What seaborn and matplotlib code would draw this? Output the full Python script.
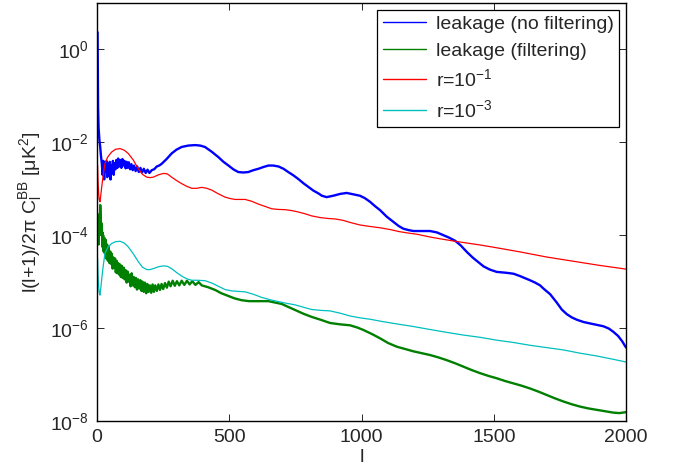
import matplotlib
matplotlib.use("Agg")
import matplotlib.pyplot as plt
import matplotlib.ticker as mticker
import numpy as np
import pandas as pd
import seaborn as sns


# ── data: multipole l and log10 of the power (uK^2) ───

l_blue = [2, 3, 4, 6, 9, 12, 15, 18, 21, 24, 27, 30, 33, 36, 39, 42, 45, 48,
          51, 54, 57, 60, 63, 66, 70, 73, 77, 80, 84, 88, 92, 96, 100, 104,
          108, 112, 116, 120, 125, 130, 135, 140, 146, 152, 158, 164, 170, 177,
          184, 191, 198, 207, 216, 226, 235, 245, 263, 282, 300, 320, 345, 371,
          390, 408, 433, 459, 478, 497, 515, 534, 553, 572, 591, 610, 630, 648,
          666, 686, 705, 723, 742, 761, 780, 799, 818, 837, 850, 868, 893, 920,
          944, 970, 994, 1012, 1032, 1050, 1070, 1095, 1120, 1140, 1158, 1178,
          1196, 1230, 1259, 1285, 1309, 1330, 1354, 1375, 1398, 1420, 1448,
          1461, 1485, 1511, 1549, 1575, 1599, 1620, 1637, 1656, 1675, 1688,
          1713, 1738, 1757, 1776, 1795, 1814, 1840, 1864, 1890, 1914, 1935,
          1952, 1970, 1985, 2000]
log_blue = [0.37, -0.5, -1.25, -1.7, -1.95, -2.1, -2.3, -2.45, -2.7, -2.4,
            -2.8, -2.45, -2.62, -2.4, -2.75, -2.48, -2.65, -2.42, -2.8, -2.5,
            -2.62, -2.4, -2.7, -2.45, -2.58, -2.38, -2.55, -2.35, -2.52, -2.38,
            -2.55, -2.36, -2.5, -2.4, -2.56, -2.42, -2.55, -2.43, -2.58, -2.47,
            -2.6, -2.5, -2.62, -2.52, -2.64, -2.55, -2.65, -2.57, -2.66, -2.59,
            -2.66, -2.6, -2.58, -2.52, -2.5, -2.46, -2.36, -2.24, -2.16, -2.10,
            -2.07, -2.06, -2.07, -2.10, -2.2, -2.32, -2.42, -2.5, -2.58, -2.64,
            -2.65, -2.64, -2.6, -2.57, -2.53, -2.5, -2.5, -2.52, -2.57, -2.64,
            -2.71, -2.79, -2.88, -2.96, -3.04, -3.10, -3.15, -3.18, -3.15,
            -3.11, -3.09, -3.12, -3.15, -3.2, -3.28, -3.37, -3.46, -3.6, -3.71,
            -3.8, -3.86, -3.89, -3.91, -3.91, -3.91, -3.94, -4.0, -4.05, -4.12,
            -4.22, -4.36, -4.48, -4.61, -4.67, -4.74, -4.79, -4.81, -4.83,
            -4.88, -4.93, -4.97, -5.02, -5.08, -5.15, -5.27, -5.45, -5.60,
            -5.70, -5.77, -5.82, -5.87, -5.9, -5.93, -5.96, -6.01, -6.08,
            -6.17, -6.28, -6.42]

l_green = [2, 4, 6, 8, 10, 12, 14, 16, 18, 20, 22, 25, 27, 30, 33, 35, 38, 41,
           44, 47, 50, 53, 56, 59, 62, 65, 68, 71, 74, 77, 80, 84, 87, 90, 94,
           97, 101, 104, 108, 112, 115, 119, 123, 127, 131, 135, 139, 143, 147,
           151, 155, 160, 164, 168, 172, 177, 181, 186, 190, 195, 200, 205,
           210, 215, 220, 226, 232, 238, 244, 250, 257, 264, 271, 278, 286,
           294, 302, 311, 320, 330, 340, 350, 360, 372, 384, 396, 420, 447,
           470, 497, 520, 547, 575, 598, 625, 648, 673, 698, 725, 749, 780,
           812, 845, 881, 920, 957, 985, 1007, 1040, 1070, 1100, 1133, 1165,
           1196, 1228, 1259, 1290, 1322, 1355, 1385, 1415, 1448, 1480, 1511,
           1543, 1574, 1605, 1637, 1670, 1700, 1730, 1763, 1795, 1826, 1858,
           1889, 1920, 1952, 1975, 2000]
log_green = [-4.1, -3.7, -4.2, -3.55, -3.9, -3.35, -3.6, -4.0, -3.75, -4.25,
             -3.95, -4.35, -4.05, -4.4, -4.1, -4.5, -4.2, -4.55, -4.25, -4.6,
             -4.35, -4.62, -4.4, -4.72, -4.48, -4.7, -4.5, -4.8, -4.55, -4.82,
             -4.6, -4.85, -4.63, -4.9, -4.66, -4.92, -4.7, -4.95, -4.75, -5.02,
             -4.78, -5.0, -4.85, -5.1, -4.82, -5.08, -4.9, -5.12, -4.92, -5.17,
             -4.95, -5.15, -4.97, -5.2, -5.0, -5.22, -5.02, -5.25, -5.05, -5.22,
             -5.08, -5.24, -5.06, -5.22, -5.08, -5.2, -5.06, -5.18, -5.05,
             -5.16, -5.03, -5.13, -5.0, -5.1, -4.98, -5.09, -4.99, -5.08, -4.98,
             -5.07, -4.98, -5.06, -4.99, -5.07, -5.01, -5.08, -5.12, -5.18,
             -5.25, -5.31, -5.36, -5.40, -5.42, -5.42, -5.42, -5.42, -5.45,
             -5.48, -5.55, -5.61, -5.69, -5.76, -5.82, -5.89, -5.92, -5.94,
             -5.99, -6.04, -6.13, -6.22, -6.32, -6.40, -6.45, -6.50, -6.54,
             -6.58, -6.63, -6.69, -6.76, -6.83, -6.90, -6.97, -7.03, -7.08,
             -7.14, -7.19, -7.24, -7.30, -7.37, -7.44, -7.51, -7.58, -7.64,
             -7.69, -7.73, -7.76, -7.79, -7.82, -7.83, -7.81]

l_red = [2, 4, 6, 8, 11, 14, 18, 23, 30, 40, 55, 70, 87, 103, 118, 137, 156,
         172, 188, 200, 213, 232, 251, 266, 282, 300, 320, 340, 358, 377, 396,
         415, 434, 459, 484, 503, 522, 541, 560, 585, 610, 635, 660, 685, 711,
         736, 761, 787, 812, 843, 874, 900, 930, 960, 994, 1030, 1070, 1110,
         1140, 1172, 1210, 1260, 1300, 1353, 1400, 1448, 1500, 1600, 1700,
         1800, 1900, 2000]
log_red = [-2.49, -2.85, -3.1, -3.22, -3.28, -3.15, -2.95, -2.72, -2.46, -2.32,
           -2.21, -2.15, -2.135, -2.17, -2.24, -2.38, -2.57, -2.69, -2.75,
           -2.76, -2.75, -2.70, -2.67, -2.68, -2.75, -2.82, -2.89, -2.95,
           -2.99, -2.99, -2.97, -2.99, -3.03, -3.11, -3.18, -3.21, -3.23,
           -3.23, -3.23, -3.27, -3.33, -3.38, -3.43, -3.445, -3.45, -3.47,
           -3.50, -3.54, -3.585, -3.62, -3.64, -3.65, -3.68, -3.73, -3.78,
           -3.81, -3.84, -3.88, -3.92, -3.95, -3.98, -4.04, -4.08, -4.13,
           -4.17, -4.21, -4.26, -4.36, -4.47, -4.56, -4.65, -4.73]

l_cyan = [2, 4, 6, 8, 11, 14, 18, 23, 30, 42, 55, 70, 87, 103, 118, 137, 156,
          172, 188, 200, 213, 232, 251, 266, 282, 300, 320, 340, 358, 380, 409,
          434, 459, 484, 510, 535, 560, 590, 623, 655, 686, 711, 749, 780, 812,
          850, 881, 920, 957, 995, 1033, 1080, 1133, 1190, 1259, 1320, 1385,
          1450, 1511, 1574, 1637, 1700, 1763, 1826, 1889, 1950, 2000]
log_cyan = [-4.50, -4.87, -5.1, -5.22, -5.29, -5.15, -4.93, -4.68, -4.39,
            -4.25, -4.18, -4.14, -4.13, -4.17, -4.25, -4.4, -4.57, -4.69,
            -4.74, -4.74, -4.72, -4.68, -4.66, -4.67, -4.72, -4.8, -4.88,
            -4.94, -4.97, -4.97, -4.98, -5.03, -5.10, -5.17, -5.20, -5.21,
            -5.22, -5.27, -5.34, -5.39, -5.43, -5.46, -5.50, -5.55, -5.60,
            -5.62, -5.63, -5.68, -5.74, -5.78, -5.81, -5.86, -5.91, -5.96,
            -6.03, -6.09, -6.15, -6.20, -6.26, -6.31, -6.37, -6.42, -6.47,
            -6.54, -6.60, -6.67, -6.73]

series = [
    ("leakage (no filtering)", l_blue, log_blue, "#0000ff", 1.7),
    ("leakage (filtering)", l_green, log_green, "#008000", 1.7),
    (r"r=10$^{\mathregular{-1}}$", l_red, log_red, "#ff0000", 0.9),
    (r"r=10$^{\mathregular{-3}}$", l_cyan, log_cyan, "#00bfbf", 0.9),
]

# ── style ─────────────────────────────────────────────────────────────────────

sns.set_style("ticks")
plt.rcParams["font.family"] = ["Liberation Sans", "DejaVu Sans"]
plt.rcParams["mathtext.fontset"] = "custom"
plt.rcParams["mathtext.rm"] = "Liberation Sans"
plt.rcParams["mathtext.it"] = "Liberation Sans:italic"
plt.rcParams["mathtext.bf"] = "Liberation Sans:bold"

fig = plt.figure(figsize=(6.79, 4.66), dpi=100)
ax = fig.add_axes([0.1429, 0.0966, 0.7791, 0.897])

for name, ls, logs, color, lw in series:
    df = pd.DataFrame({"l": ls, "cl": 10.0 ** np.asarray(logs)})
    sns.lineplot(data=df, x="l", y="cl", ax=ax, color=color, linewidth=lw,
                 label=name, estimator=None)

ax.set_yscale("log")
ax.set_xlim(0, 2000)
ax.set_ylim(1e-8, 10)
ax.set_xticks([0, 500, 1000, 1500, 2000])
ax.yaxis.set_major_locator(mticker.FixedLocator([1e-8, 1e-6, 1e-4, 1e-2, 1e0]))
ax.yaxis.set_major_formatter(mticker.LogFormatterSciNotation())
ax.yaxis.set_minor_locator(mticker.NullLocator())
ax.tick_params(direction="in", length=5, width=0.7, labelsize=14,
               top=True, right=True, pad=6)
for sp in ax.spines.values():
    sp.set_linewidth(1.0)
    sp.set_color("black")

ax.set_xlabel("l", fontsize=14, labelpad=2)
ax.set_ylabel(r"l(l+1)/2$\mathrm{\pi}$ C$_{\mathregular{l}}^{\mathregular{BB}}$ "
              r"[$\mathrm{\mu}$K$^{\mathregular{2}}$]",
              fontsize=14, labelpad=4)

leg = ax.legend(loc="upper right", fontsize=14, frameon=True, fancybox=False,
                edgecolor="black", framealpha=1, borderaxespad=0.35,
                handlelength=2.2, labelspacing=0.45, borderpad=0.3,
                handletextpad=0.5)
leg.get_frame().set_linewidth(0.9)
for h in leg.get_lines():
    h.set_linewidth(1.0)

fig.savefig("out.png", dpi=100)
